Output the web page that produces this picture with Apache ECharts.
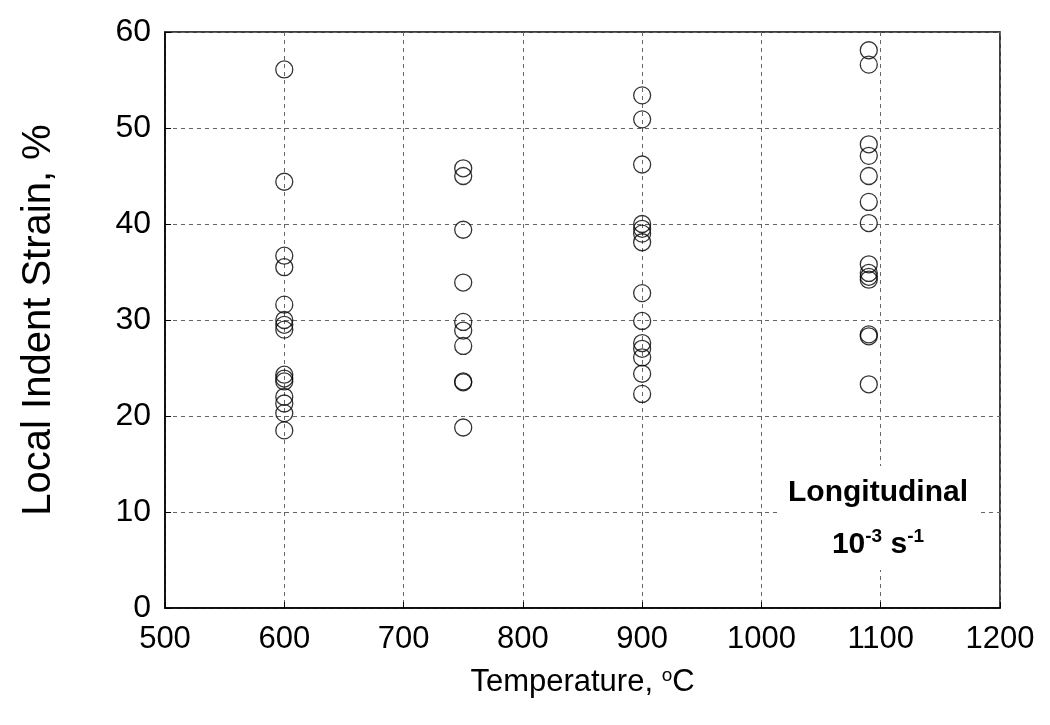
<!DOCTYPE html>
<html>
<head>
<meta charset="utf-8">
<script src="https://cdn.jsdelivr.net/npm/echarts@6/dist/echarts.min.js"></script>
<style>html,body{margin:0;padding:0;background:#fff}#c{width:1050px;height:725px}</style>
</head>
<body>
<div id="c"></div>
<script>
const temperatures = [600, 750, 900, 1090];
const strain600 = [56.1, 44.4, 36.7, 35.5, 31.6, 30.0, 29.5, 29.0, 24.3, 23.9, 23.6, 22.0, 21.3, 20.3, 18.5];
const strain750 = [45.8, 45.0, 39.4, 33.9, 29.8, 28.9, 27.3, 23.6, 23.5, 18.8];
const strain900 = [53.4, 50.9, 46.2, 40.0, 39.5, 39.0, 38.1, 32.8, 29.9, 27.6, 27.0, 26.1, 24.4, 22.3];
const strain1090 = [58.1, 56.6, 48.3, 47.1, 45.0, 42.3, 40.1, 35.8, 34.9, 34.5, 34.2, 28.5, 28.3, 23.3];
const xTicks = [500, 600, 700, 800, 900, 1000, 1100, 1200];
const yTicks = [0, 10, 20, 30, 40, 50, 60];

const groups = [strain600, strain750, strain900, strain1090];
const points = [];
groups.forEach((g, i) => g.forEach(v => points.push([temperatures[i], v])));

const font = 'Liberation Sans, Arial, sans-serif';
const chart = echarts.init(document.getElementById('c'));
chart.setOption({
  animation: false,
  backgroundColor: '#fff',
  grid: { left: 165, right: 50, top: 32, bottom: 117, show: true, borderColor: '#000', borderWidth: 1.5 },
  xAxis: {
    type: 'value', min: xTicks[0], max: xTicks[xTicks.length - 1], interval: 100,
    name: 'Temperature, {sup|o}C', nameLocation: 'middle', nameGap: 58,
    nameTextStyle: { fontFamily: font, fontSize: 31, color: '#000',
      rich: { sup: { fontFamily: font, fontSize: 19, color: '#000', verticalAlign: 'top', padding: [0, 0, 14, 0] } } },
    axisLine: { show: true, lineStyle: { color: '#000', width: 1.5 } },
    axisTick: { show: true, inside: true, length: 6, lineStyle: { color: '#000' } },
    axisLabel: { fontFamily: font, fontSize: 31, color: '#000', margin: 16, formatter: v => String(v) },
    splitLine: { show: true, lineStyle: { color: '#666', type: [4, 4], width: 1 } }
  },
  yAxis: {
    type: 'value', min: yTicks[0], max: yTicks[yTicks.length - 1], interval: 10,
    name: 'Local Indent Strain, %', nameLocation: 'middle', nameGap: 106,
    nameTextStyle: { fontFamily: font, fontSize: 40, color: '#000' },
    axisLine: { show: true, lineStyle: { color: '#000', width: 1.5 } },
    axisTick: { show: true, inside: true, length: 6, lineStyle: { color: '#000' } },
    axisLabel: { fontFamily: font, fontSize: 32, color: '#000', margin: 14, formatter: v => String(v) },
    splitLine: { show: true, lineStyle: { color: '#666', type: [4, 4], width: 1 } }
  },
  series: [{
    type: 'scatter', data: points, symbol: 'circle', symbolSize: 17,
    itemStyle: { color: 'rgba(0,0,0,0)', borderColor: '#000', borderWidth: 1.3 },
    z: 5
  }],
  graphic: [
    { type: 'rect', z: 8, shape: { x: 778, y: 466, width: 200, height: 104 }, style: { fill: '#fff' } },
    { type: 'text', z: 10, x: 878, y: 493,
      style: { text: 'Longitudinal', fontFamily: font, fontSize: 30, fontWeight: 'bold', fill: '#000',
        textAlign: 'center', textVerticalAlign: 'middle' } },
    { type: 'text', z: 10, x: 878, y: 545,
      style: { text: '{n|10}{s|-3}{n| s}{s|-1}', fontFamily: font, fontSize: 30, fontWeight: 'bold', fill: '#000',
        textAlign: 'center', textVerticalAlign: 'middle',
        rich: {
          n: { fontFamily: font, fontSize: 30, fontWeight: 'bold', fill: '#000', lineHeight: 36 },
          s: { fontFamily: font, fontSize: 19, fontWeight: 'bold', fill: '#000', verticalAlign: 'top', lineHeight: 36, padding: [0, 0, 14, 0] }
        } } }
  ]
});
</script>
</body>
</html>
